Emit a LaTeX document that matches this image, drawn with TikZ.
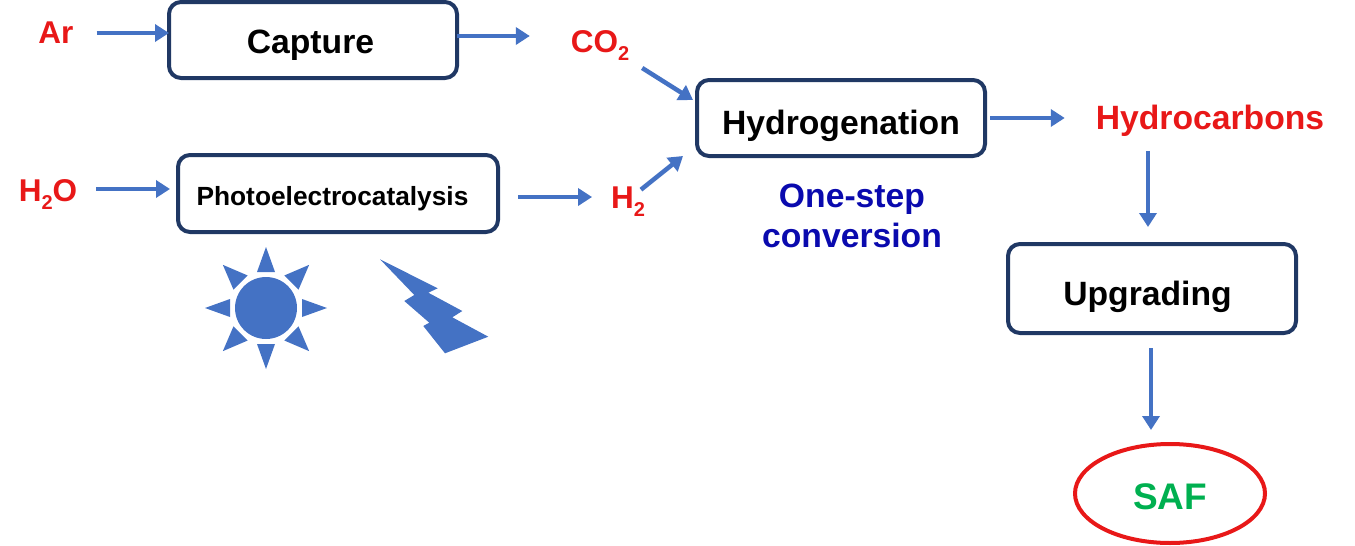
\documentclass[tikz,border=0pt]{standalone}
\usepackage{fontspec}
\setmainfont{Liberation Sans}
\usetikzlibrary{arrows.meta,shapes.geometric}
\definecolor{navy}{HTML}{203864}
\definecolor{flow}{HTML}{4472C4}
\definecolor{chem}{HTML}{E81818}
\definecolor{note}{HTML}{0A0AAE}
\definecolor{fuel}{HTML}{00B050}
\newcommand{\subtwo}{\raisebox{-8pt}{\fontsize{20}{24}\selectfont 2}}
\tikzset{
  big/.style={font=\fontsize{33.7}{40}\selectfont\bfseries},
  procbox/.style={draw=navy,line width=4pt,rounded corners=12pt,inner sep=0pt,outer sep=0pt,fill=white},
  chemtext/.style={font=\fontsize{31.5}{38}\selectfont\bfseries,text=chem,inner sep=0pt,outer sep=0pt,anchor=base},
  flowarrow/.style={draw=flow,line width=4.5pt,-{Triangle[length=14pt,width=17pt]}},
  icon/.style={fill=flow,draw=none},
  boxlabel/.style={big,inner sep=0pt,text=black}
}
\begin{document}
\begin{tikzpicture}[x=1pt,y=-1pt]
\useasboundingbox (0,0) rectangle (1355,546);
% process boxes
\node[procbox,minimum width=288pt,minimum height=76pt,label={[boxlabel,xshift=-2.5pt,yshift=-5pt]center:Capture}] (capture) at (313,40) {};
\node[procbox,minimum width=320pt,minimum height=77pt,label={[boxlabel,font=\fontsize{26.3}{32}\selectfont\bfseries,xshift=-5.5pt,yshift=-5pt]center:Photoelectrocatalysis}] (photo) at (338,193.5) {};
\node[procbox,minimum width=288pt,minimum height=76pt,label={[boxlabel,yshift=-7.5pt]center:Hydrogenation}] (hydro) at (841,118) {};
\node[procbox,minimum width=288pt,minimum height=89pt,label={[boxlabel,xshift=-4.5pt,yshift=-8.5pt]center:Upgrading}] (upgrade) at (1152,288.5) {};
\node[ellipse,draw=chem,line width=4pt,inner sep=0pt,outer sep=0pt,minimum width=190pt,minimum height=99pt,label={[font=\fontsize{37}{44}\selectfont\bfseries,text=fuel,inner sep=0pt,yshift=-3.5pt]center:SAF}] (saf) at (1170,493.5) {};
% species
\node[chemtext] (ar) at (56,43) {Ar};
\node[chemtext] (co2) at (600,52) {CO\subtwo};
\node[chemtext] (h2o) at (48,201) {H\subtwo O};
\node[chemtext] (h2) at (628,208) {H\subtwo};
\node[chemtext,big,text=chem] (hc) at (1210,129) {Hydrocarbons};
\node[big,text=note,align=center,inner sep=0pt] (note) at (852,216) {One-step\\conversion};
% connectors
\draw[flowarrow] ([xshift=23pt,yshift=7pt]ar.east |- capture.west) -- ([yshift=7pt]capture.west);
\draw[flowarrow] ([yshift=4pt]capture.east) -- ([xshift=-41pt,yshift=4pt]co2.west |- capture.east);
\draw[flowarrow] ([xshift=13pt,yshift=-8pt]co2.south east) -- ([xshift=-4pt,yshift=18pt]hydro.west);
\draw[flowarrow] ([xshift=19pt,yshift=4.5pt]h2o.east |- photo.west) -- ([xshift=-8pt,yshift=4.5pt]photo.west);
\draw[flowarrow] ([xshift=20pt,yshift=-3.5pt]photo.east) -- ([xshift=-19pt,yshift=-3.5pt]h2.west |- photo.east);
\draw[flowarrow] ([xshift=-4pt,yshift=11.5pt]h2.east) -- ([xshift=-14pt]hydro.south west);
\draw[flowarrow] ([xshift=5pt]hydro.east) -- ([xshift=-31pt]hc.west |- hydro.east);
\draw[flowarrow] ([xshift=-62pt,yshift=-15pt]hc.south) -- ([xshift=-4pt,yshift=17pt]upgrade.north);
\draw[flowarrow] ([xshift=-1pt,yshift=-15pt]upgrade.south) -- ([xshift=-1pt,yshift=14pt]upgrade.south |- saf.north);
% sun
\fill[icon] (266,308) circle (31);
\foreach \a in {0,90,180,270}
  \fill[icon,shift={(266,308)},rotate=\a] (61,0) -- (36,-9) -- (36,9) -- cycle;
\foreach \a in {45,135,225,315}
  \fill[icon,shift={(266,308)},rotate=\a] (61,0) -- (36,-10) -- (36,10) -- cycle;
% lightning bolt
\fill[icon] (380,259.3) -- (437.7,288.3) -- (428.3,292.7) -- (462.3,311) -- (452.3,317.3) -- (488.3,336.7) -- (445,353.3) -- (423.3,326) -- (429.3,322.7) -- (404.3,301) -- (414.3,295) -- cycle;
\end{tikzpicture}
\end{document}
